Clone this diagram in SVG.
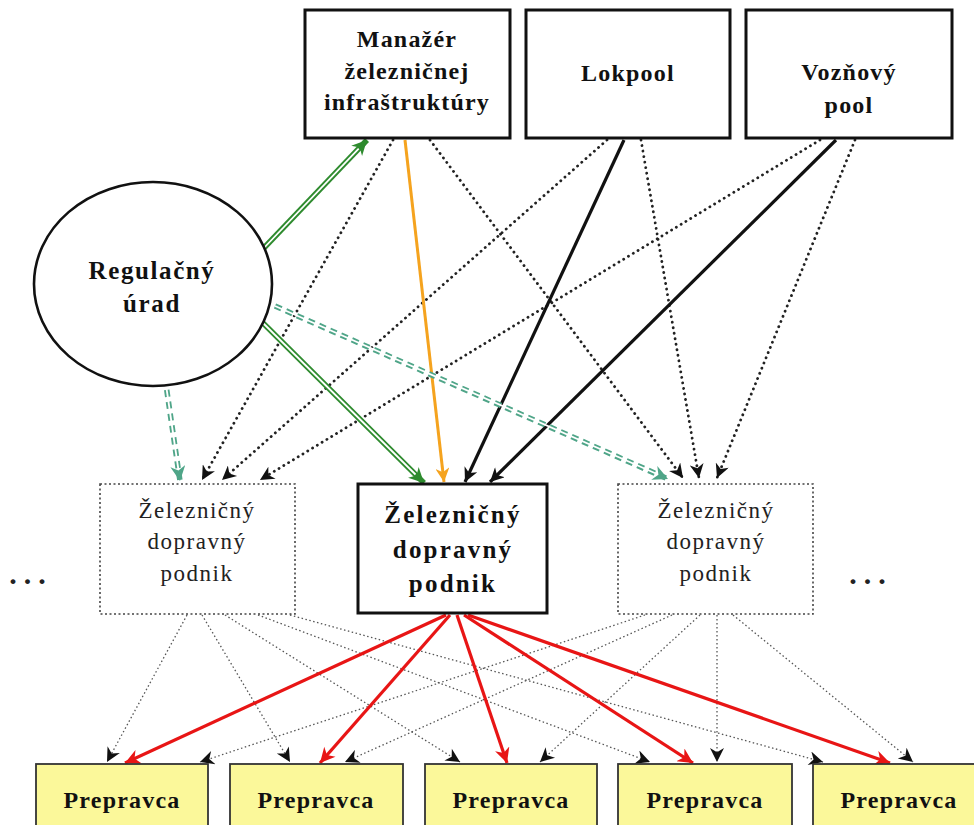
<svg xmlns="http://www.w3.org/2000/svg" width="974" height="825" viewBox="0 0 974 825">
<defs>
<style>
.box{fill:#fff;stroke:#111;stroke-width:3}
.dbox{fill:#fff;stroke:#444;stroke-width:1.6;stroke-dasharray:2 2.5}
.pbox{fill:#fbf89a;stroke:#333;stroke-width:1.8}
.tb{font-family:"Liberation Serif","Times New Roman",serif;font-weight:bold;font-size:24px;fill:#111;text-anchor:middle;letter-spacing:1.2px}
.te{font-family:"Liberation Serif","Times New Roman",serif;font-weight:bold;font-size:25px;fill:#111;text-anchor:middle;letter-spacing:1.6px}
.tm{font-family:"Liberation Serif","Times New Roman",serif;font-weight:bold;font-size:25px;fill:#111;text-anchor:middle;letter-spacing:2.2px}
.tr{font-family:"Liberation Serif","Times New Roman",serif;font-size:23px;fill:#222;text-anchor:middle;letter-spacing:1.5px}
.dots{font-family:"Liberation Serif",serif;font-weight:bold;font-size:30px;fill:#222;text-anchor:middle;letter-spacing:7px}
.dot1{fill:none;stroke:#222;stroke-width:2.8;stroke-dasharray:0.1 5.5;stroke-linecap:round}
.dot2{fill:none;stroke:#555;stroke-width:1.3;stroke-dasharray:1.5 2.5}
.blk{fill:none;stroke:#111;stroke-width:3.2}
.red{fill:none;stroke:#e81515;stroke-width:3.2}
.org{fill:none;stroke:#f5a31e;stroke-width:3}
.grn{fill:none;stroke:#2e8b2e;stroke-width:5.5}
.tea{fill:none;stroke:#4fa588;stroke-width:5.5;stroke-dasharray:7 5}
.wht{fill:none;stroke:#fff;stroke-width:1.8}
</style>
<marker id="aB" viewBox="0 0 10 10" refX="10" refY="5" markerWidth="17" markerHeight="14" markerUnits="userSpaceOnUse" orient="auto"><path d="M0,0 L10,5 L0,10 L3,5 Z" fill="#111"/></marker>
<marker id="aR" viewBox="0 0 10 10" refX="10" refY="5" markerWidth="18" markerHeight="15" markerUnits="userSpaceOnUse" orient="auto"><path d="M0,0 L10,5 L0,10 L3,5 Z" fill="#e81515"/></marker>
<marker id="aO" viewBox="0 0 10 10" refX="10" refY="5" markerWidth="16" markerHeight="14" markerUnits="userSpaceOnUse" orient="auto"><path d="M0,0 L10,5 L0,10 L3,5 Z" fill="#f5a31e"/></marker>
<marker id="aG" viewBox="0 0 10 10" refX="10" refY="5" markerWidth="17" markerHeight="15" markerUnits="userSpaceOnUse" orient="auto"><path d="M0,0 L10,5 L0,10 L3,5 Z" fill="#2e8b2e"/></marker>
<marker id="aT" viewBox="0 0 10 10" refX="10" refY="5" markerWidth="17" markerHeight="15" markerUnits="userSpaceOnUse" orient="auto"><path d="M0,0 L10,5 L0,10 L3,5 Z" fill="#4fa588"/></marker>
</defs>
<rect width="974" height="825" fill="#fff"/>

<g id="connectors">
<line class="dot1" x1="393" y1="140" x2="202" y2="480" marker-end="url(#aB)"/>
<line class="dot1" x1="430" y1="140" x2="683" y2="478" marker-end="url(#aB)"/>
<line class="dot1" x1="607" y1="140" x2="222" y2="480" marker-end="url(#aB)"/>
<line class="dot1" x1="641" y1="140" x2="699" y2="478" marker-end="url(#aB)"/>
<line class="dot1" x1="820" y1="140" x2="260" y2="480" marker-end="url(#aB)"/>
<line class="dot1" x1="855" y1="140" x2="717" y2="478" marker-end="url(#aB)"/>
<line class="blk" x1="624" y1="140" x2="465" y2="482" marker-end="url(#aB)"/>
<line class="blk" x1="836" y1="140" x2="490" y2="482" marker-end="url(#aB)"/>
<line class="org" x1="405" y1="140" x2="444" y2="482" marker-end="url(#aO)"/>
<line class="grn" x1="262" y1="250" x2="367" y2="140" marker-end="url(#aG)"/>
<line class="wht" x1="262" y1="250" x2="358.7" y2="148.7"/>
<line class="grn" x1="262" y1="322" x2="424" y2="483" marker-end="url(#aG)"/>
<line class="wht" x1="262" y1="322" x2="415.5" y2="474.5"/>
<line class="tea" x1="165" y1="378" x2="180" y2="481" marker-end="url(#aT)"/>
<line class="wht" x1="165" y1="378" x2="178.3" y2="469"/>
<line class="tea" x1="275" y1="306" x2="668" y2="479" marker-end="url(#aT)"/>
<line class="wht" x1="275" y1="306" x2="657" y2="474"/>
<line class="dot2" x1="187" y1="615" x2="107" y2="762" marker-end="url(#aB)"/>
<line class="dot2" x1="202" y1="615" x2="290" y2="762" marker-end="url(#aB)"/>
<line class="dot2" x1="225" y1="615" x2="460" y2="762" marker-end="url(#aB)"/>
<line class="dot2" x1="258" y1="615" x2="650" y2="762" marker-end="url(#aB)"/>
<line class="dot2" x1="290" y1="615" x2="823" y2="762" marker-end="url(#aB)"/>
<line class="dot2" x1="645" y1="615" x2="200" y2="762" marker-end="url(#aB)"/>
<line class="dot2" x1="672" y1="615" x2="345" y2="762" marker-end="url(#aB)"/>
<line class="dot2" x1="700" y1="615" x2="540" y2="762" marker-end="url(#aB)"/>
<line class="dot2" x1="717" y1="615" x2="717" y2="762" marker-end="url(#aB)"/>
<line class="dot2" x1="733" y1="615" x2="913" y2="762" marker-end="url(#aB)"/>
<line class="red" x1="446" y1="615" x2="125" y2="763" marker-end="url(#aR)"/>
<line class="red" x1="450" y1="615" x2="320" y2="763" marker-end="url(#aR)"/>
<line class="red" x1="457" y1="615" x2="507" y2="763" marker-end="url(#aR)"/>
<line class="red" x1="464" y1="615" x2="693" y2="763" marker-end="url(#aR)"/>
<line class="red" x1="468" y1="615" x2="890" y2="763" marker-end="url(#aR)"/>
</g>

<g id="manazer">
<rect class="box" x="305" y="10" width="205" height="128"/>
<text class="tb" x="407" y="47">Manažér</text>
<text class="tb" x="407" y="79">železničnej</text>
<text class="tb" x="407" y="110">infraštruktúry</text>
</g>
<g id="lokpool">
<rect class="box" x="526" y="10" width="204" height="128"/>
<text class="tb" x="628" y="81">Lokpool</text>
</g>
<g id="voznovy">
<rect class="box" x="746" y="10" width="206" height="128"/>
<text class="tb" x="849" y="80">Vozňový</text>
<text class="tb" x="849" y="113">pool</text>
</g>
<g id="regulacny">
<ellipse cx="153" cy="284" rx="119" ry="102" fill="#fff" stroke="#111" stroke-width="2.6"/>
<text class="te" x="152" y="279">Regulačný</text>
<text class="te" x="152" y="312">úrad</text>
</g>
<g id="zdp-left">
<rect class="dbox" x="100" y="484" width="195" height="130"/>
<text class="tr" x="197" y="518">Železničný</text>
<text class="tr" x="197" y="549">dopravný</text>
<text class="tr" x="197" y="581">podnik</text>
</g>
<g id="zdp-center">
<rect class="box" x="358" y="484" width="189" height="129"/>
<text class="tm" x="453" y="523">Železničný</text>
<text class="tm" x="453" y="558">dopravný</text>
<text class="tm" x="453" y="592">podnik</text>
</g>
<g id="zdp-right">
<rect class="dbox" x="618" y="484" width="195" height="130"/>
<text class="tr" x="716" y="518">Železničný</text>
<text class="tr" x="716" y="549">dopravný</text>
<text class="tr" x="716" y="581">podnik</text>
</g>
<g id="dots-left"><text class="dots" x="31" y="584">...</text></g>
<g id="dots-right"><text class="dots" x="871" y="584">...</text></g>

<g id="p1"><rect class="pbox" x="36" y="764" width="172" height="80"/><text class="tb" x="122" y="808">Prepravca</text></g>
<g id="p2"><rect class="pbox" x="230" y="764" width="173" height="80"/><text class="tb" x="316" y="808">Prepravca</text></g>
<g id="p3"><rect class="pbox" x="425" y="764" width="172" height="80"/><text class="tb" x="511" y="808">Prepravca</text></g>
<g id="p4"><rect class="pbox" x="618" y="764" width="174" height="80"/><text class="tb" x="705" y="808">Prepravca</text></g>
<g id="p5"><rect class="pbox" x="813" y="764" width="172" height="80"/><text class="tb" x="899" y="808">Prepravca</text></g>
</svg>
